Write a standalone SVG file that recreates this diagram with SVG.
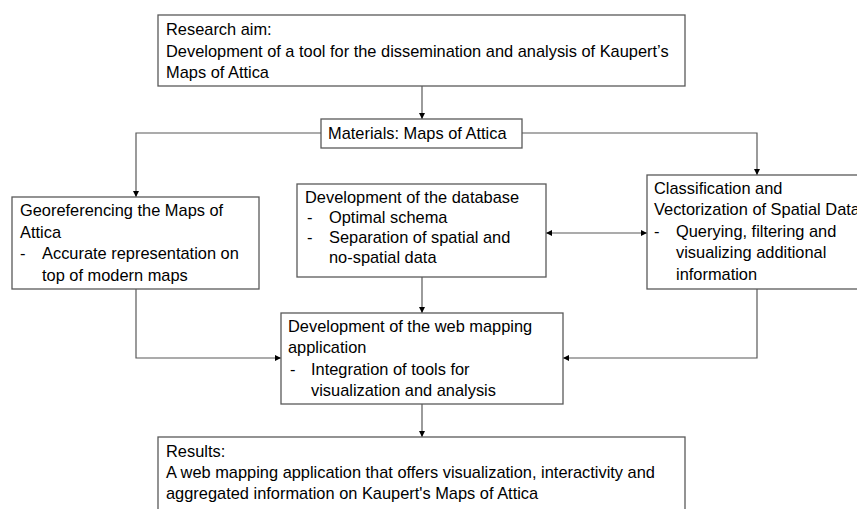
<svg xmlns="http://www.w3.org/2000/svg" width="857" height="509" viewBox="0 0 857 509">
<style>
.box{fill:#fff;stroke:#595959;stroke-width:1.3}
.t{font-family:"Liberation Sans",Arial,sans-serif;font-size:16.4px;fill:#000}
.c{fill:none;stroke:#595959;stroke-width:1.2}
</style>
<defs>
<marker id="ah" viewBox="0 0 6 6" refX="6" refY="3" markerWidth="6" markerHeight="6" orient="auto-start-reverse" markerUnits="userSpaceOnUse">
<path d="M0,0 L6,3 L0,6 z" fill="#000"/>
</marker>
</defs>
<rect width="857" height="509" fill="#fff"/>
<g id="connectors">
<path class="c" d="M422,86 V119" marker-end="url(#ah)"/>
<path class="c" d="M321,133 H136 V197" marker-end="url(#ah)"/>
<path class="c" d="M522,133 H757 V175" marker-end="url(#ah)"/>
<path class="c" d="M546,233 H647" marker-start="url(#ah)" marker-end="url(#ah)"/>
<path class="c" d="M422,277 V313" marker-end="url(#ah)"/>
<path class="c" d="M136,289 V358 H281" marker-end="url(#ah)"/>
<path class="c" d="M757,289 V358 H563" marker-end="url(#ah)"/>
<path class="c" d="M422,404 V437" marker-end="url(#ah)"/>
</g>
<g id="aim">
<rect class="box" x="158" y="15" width="527" height="71"/>
<text class="t" x="166" y="35">Research aim:</text>
<text class="t" x="166" y="57">Development of a tool for the dissemination and analysis of Kaupert’s</text>
<text class="t" x="166" y="78">Maps of Attica</text>
</g>
<g id="materials">
<rect class="box" x="321" y="119" width="201" height="29"/>
<text class="t" x="328" y="139">Materials: Maps of Attica</text>
</g>
<g id="georef">
<rect class="box" x="12" y="197" width="247" height="92"/>
<text class="t" x="20" y="216">Georeferencing the Maps of</text>
<text class="t" x="20" y="238">Attica</text>
<text class="t" x="20" y="259">-</text>
<text class="t" x="42" y="259">Accurate representation on</text>
<text class="t" x="42" y="281">top of modern maps</text>
</g>
<g id="database">
<rect class="box" x="297" y="184" width="249" height="93"/>
<text class="t" x="305" y="203">Development of the database</text>
<text class="t" x="307" y="223">-</text>
<text class="t" x="329" y="223">Optimal schema</text>
<text class="t" x="307" y="243">-</text>
<text class="t" x="329" y="243">Separation of spatial and</text>
<text class="t" x="329" y="263">no-spatial data</text>
</g>
<g id="classification">
<rect class="box" x="647" y="175" width="215" height="114"/>
<text class="t" x="654" y="194">Classification and</text>
<text class="t" x="654" y="215">Vectorization of Spatial Data</text>
<text class="t" x="654" y="237">-</text>
<text class="t" x="676" y="237">Querying, filtering and</text>
<text class="t" x="676" y="258">visualizing additional</text>
<text class="t" x="676" y="280">information</text>
</g>
<g id="webapp">
<rect class="box" x="281" y="313" width="282" height="91"/>
<text class="t" x="288" y="332">Development of the web mapping</text>
<text class="t" x="288" y="353">application</text>
<text class="t" x="290" y="375">-</text>
<text class="t" x="311" y="375">Integration of tools for</text>
<text class="t" x="311" y="396">visualization and analysis</text>
</g>
<g id="results">
<rect class="box" x="158" y="437" width="527" height="80"/>
<text class="t" x="166" y="457">Results:</text>
<text class="t" x="166" y="478">A web mapping application that offers visualization, interactivity and</text>
<text class="t" x="166" y="499">aggregated information on Kaupert's Maps of Attica</text>
</g>
</svg>
